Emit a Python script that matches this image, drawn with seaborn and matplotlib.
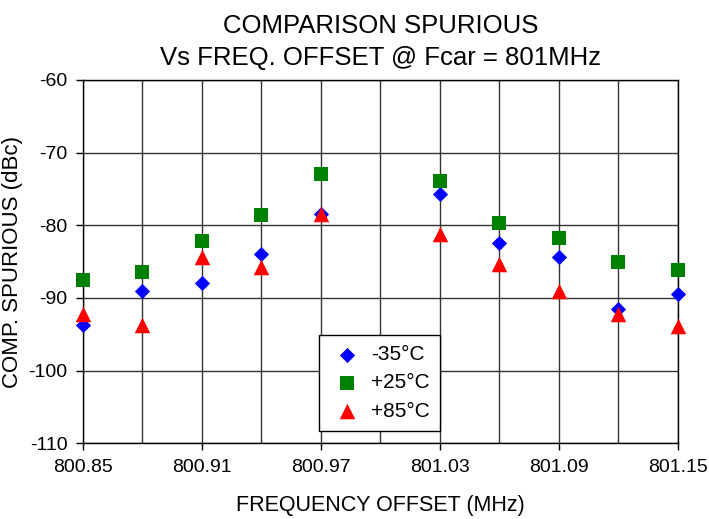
import pandas as pd
import matplotlib
matplotlib.use("Agg")
import matplotlib.pyplot as plt
from matplotlib.ticker import FixedLocator
import seaborn as sns

sns.set_style("white")
plt.rcParams['font.family'] = ['Liberation Sans', 'DejaVu Sans']
plt.rcParams['axes.unicode_minus'] = False
plt.rcParams['text.color'] = 'black'
plt.rcParams['axes.labelcolor'] = 'black'
plt.rcParams['xtick.color'] = 'black'
plt.rcParams['ytick.color'] = 'black'

# frequency offsets (MHz) - no point at 801.00
freq = [800.85, 800.88, 800.91, 800.94, 800.97, 801.03, 801.06, 801.09, 801.12, 801.15]
spur_m35 = [-93.7, -89.1, -87.9, -84.0, -78.5, -75.7, -82.4, -84.4, -91.5, -89.5]
spur_p25 = [-87.6, -86.4, -82.2, -78.6, -73.0, -73.9, -79.7, -81.7, -85.0, -86.2]
spur_p85 = [-92.2, -93.7, -84.4, -85.8, -78.4, -81.2, -85.4, -89.0, -92.2, -93.9]

x_major = [800.85, 800.91, 800.97, 801.03, 801.09, 801.15]
x_labels = ['800.85', '800.91', '800.97', '801.03', '801.09', '801.15']
x_minor = [800.88, 800.94, 801.00, 801.06, 801.12]
y_ticks = [-110, -100, -90, -80, -70, -60]

series = [
    ("-35°C", spur_m35, "#0000ff", "D", 60),
    ("+25°C", spur_p25, "#008000", "s", 110),
    ("+85°C", spur_p85, "#ff0000", "^", 125),
]

fig = plt.figure(figsize=(7.09, 5.19), dpi=100)
ax = fig.add_axes([0.117, 0.146, 0.839, 0.700])

for label, vals, col, mk, sz in series:
    df = pd.DataFrame({'freq': freq, 'spur': vals})
    sns.scatterplot(data=df, x='freq', y='spur', ax=ax, color=col, marker=mk,
                    s=sz, linewidth=0, label=label, zorder=3, clip_on=False)

ax.set_xlim(800.85, 801.15)
ax.set_ylim(-110, -60)
ax.xaxis.set_major_locator(FixedLocator(x_major))
ax.xaxis.set_minor_locator(FixedLocator(x_minor))
ax.set_xticklabels(x_labels)
ax.set_yticks(y_ticks)

ax.grid(True, which='both', color='0.2', linewidth=1.0)
ax.set_axisbelow(True)
for sp in ax.spines.values():
    sp.set_color('black')
    sp.set_linewidth(1.0)

ax.tick_params(axis='both', which='major', direction='out', length=5, width=1,
               color='black', labelsize=14, pad=6, bottom=True, left=True)
ax.tick_params(axis='x', which='minor', length=0)

ax.set_xlabel('FREQUENCY OFFSET (MHz)', fontsize=15.5, labelpad=14)
ax.set_ylabel('COMP. SPURIOUS (dBc)', fontsize=16, labelpad=4)
ax.set_title('COMPARISON SPURIOUS\nVs FREQ. OFFSET @ Fcar = 801MHz',
             fontsize=18.5, pad=11, linespacing=1.4)

leg = ax.legend(loc='lower left', bbox_to_anchor=(0.397, 0.033), fontsize=15,
                frameon=True, fancybox=False, framealpha=1, edgecolor='black',
                handletextpad=0.3, borderpad=0.5, labelspacing=0.45,
                handlelength=1.7, borderaxespad=0)
leg.get_frame().set_linewidth(1.0)

plt.savefig('out.png', dpi=100)
